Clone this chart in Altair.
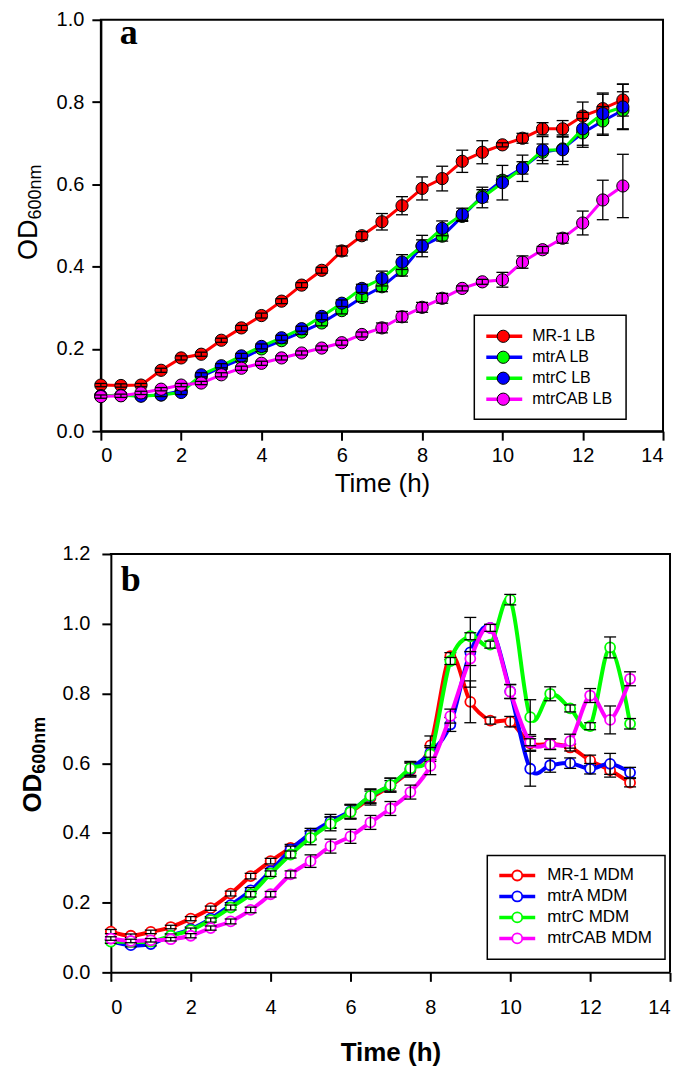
import altair as alt
import pandas as pd

# ---------------- data ----------------
TIME = [0, 0.5, 1, 1.5, 2, 2.5, 3, 3.5, 4, 4.5, 5, 5.5, 6, 6.5, 7, 7.5, 8, 8.5,
        9, 9.5, 10, 10.5, 11, 11.5, 12, 12.5, 13]

# Panel a (LB)
A_NAMES = ["MR-1 LB", "mtrA LB", "mtrC LB", "mtrCAB LB"]
A_LINE = ["#FF0000", "#0000FF", "#00FF00", "#FF00FF"]
A_FILL = ["#FF0000", "#00FF00", "#0000FF", "#FF00FF"]
A_MR1 = [0.112, 0.111, 0.112, 0.148, 0.178, 0.187, 0.221, 0.251, 0.281, 0.316, 0.355, 0.391, 0.438, 0.475,
         0.509, 0.548, 0.590, 0.614, 0.656, 0.678, 0.696, 0.712, 0.735, 0.735, 0.766, 0.784, 0.805]
A_MR1_ERR = [0.004, 0.004, 0.004, 0.005, 0.005, 0.005, 0.005, 0.006, 0.006, 0.006, 0.006, 0.007, 0.012, 0.010,
             0.020, 0.022, 0.028, 0.030, 0.027, 0.028, 0.005, 0.012, 0.015, 0.020, 0.034, 0.035, 0.039]
A_MTRA = [0.086, 0.087, 0.086, 0.088, 0.098, 0.133, 0.155, 0.175, 0.200, 0.220, 0.241, 0.263, 0.293, 0.325,
          0.351, 0.391, 0.450, 0.474, 0.522, 0.572, 0.610, 0.640, 0.678, 0.686, 0.725, 0.754, 0.780]
A_MTRA_ERR = [0.004, 0.004, 0.004, 0.004, 0.005, 0.005, 0.005, 0.005, 0.006, 0.006, 0.006, 0.007, 0.008, 0.010,
              0.012, 0.014, 0.015, 0.012, 0.012, 0.015, 0.010, 0.015, 0.020, 0.030, 0.035, 0.035, 0.045]
A_MTRC = [0.086, 0.087, 0.085, 0.088, 0.094, 0.137, 0.159, 0.183, 0.206, 0.227, 0.249, 0.279, 0.311, 0.347,
          0.371, 0.411, 0.450, 0.493, 0.527, 0.568, 0.604, 0.639, 0.683, 0.684, 0.735, 0.772, 0.788]
A_MTRC_ERR = [0.004, 0.004, 0.004, 0.004, 0.005, 0.005, 0.005, 0.006, 0.006, 0.006, 0.006, 0.008, 0.008, 0.010,
              0.018, 0.018, 0.026, 0.018, 0.015, 0.025, 0.042, 0.032, 0.033, 0.036, 0.040, 0.050, 0.055]
A_CAB = [0.084, 0.086, 0.093, 0.102, 0.112, 0.117, 0.137, 0.153, 0.165, 0.178, 0.190, 0.202, 0.215, 0.235,
         0.251, 0.278, 0.301, 0.323, 0.347, 0.363, 0.368, 0.411, 0.441, 0.469, 0.506, 0.562, 0.596]
A_CAB_ERR = [0.004, 0.004, 0.004, 0.004, 0.004, 0.004, 0.005, 0.005, 0.005, 0.005, 0.005, 0.005, 0.006, 0.006,
             0.012, 0.013, 0.012, 0.012, 0.006, 0.006, 0.018, 0.015, 0.008, 0.012, 0.029, 0.048, 0.077]

# Panel b (MDM)
B_NAMES = ["MR-1 MDM", "mtrA MDM", "mtrC MDM", "mtrCAB MDM"]
B_COLORS = ["#FF0000", "#0000FF", "#00FF00", "#FF00FF"]
B_MR1 = [0.117, 0.105, 0.116, 0.130, 0.154, 0.184, 0.226, 0.276, 0.319, 0.357, 0.392, 0.430, 0.460, 0.500,
         0.535, 0.580, 0.651, 0.907, 0.776, 0.722, 0.719, 0.657, 0.655, 0.645, 0.608, 0.580, 0.544]
B_MR1_ERR = [0.006, 0.005, 0.005, 0.005, 0.006, 0.006, 0.007, 0.008, 0.008, 0.010, 0.012, 0.015, 0.020, 0.020,
             0.015, 0.020, 0.027, 0.010, 0.060, 0.010, 0.015, 0.020, 0.015, 0.010, 0.015, 0.020, 0.012]
B_MTRA = [0.090, 0.078, 0.081, 0.105, 0.124, 0.154, 0.193, 0.235, 0.290, 0.352, 0.398, 0.433, 0.462, 0.505,
          0.537, 0.583, 0.630, 0.711, 0.918, 0.988, 0.806, 0.584, 0.594, 0.600, 0.584, 0.598, 0.573]
B_MTRA_ERR = [0.005, 0.005, 0.005, 0.005, 0.006, 0.006, 0.007, 0.008, 0.008, 0.010, 0.015, 0.020, 0.020, 0.020,
              0.020, 0.020, 0.020, 0.020, 0.100, 0.010, 0.020, 0.050, 0.020, 0.015, 0.015, 0.030, 0.015]
B_MTRC = [0.088, 0.088, 0.088, 0.105, 0.121, 0.150, 0.186, 0.224, 0.283, 0.338, 0.386, 0.426, 0.460, 0.506,
          0.537, 0.585, 0.625, 0.893, 0.964, 0.940, 1.069, 0.732, 0.799, 0.757, 0.706, 0.932, 0.713]
B_MTRC_ERR = [0.005, 0.005, 0.005, 0.005, 0.006, 0.006, 0.007, 0.008, 0.008, 0.010, 0.020, 0.020, 0.020, 0.020,
              0.020, 0.020, 0.020, 0.010, 0.010, 0.010, 0.015, 0.050, 0.020, 0.010, 0.010, 0.030, 0.015]
B_CAB = [0.097, 0.090, 0.092, 0.095, 0.105, 0.127, 0.146, 0.179, 0.224, 0.281, 0.319, 0.362, 0.390, 0.430,
         0.470, 0.517, 0.592, 0.735, 0.900, 0.988, 0.805, 0.660, 0.654, 0.663, 0.794, 0.724, 0.842]
B_CAB_ERR = [0.005, 0.005, 0.005, 0.005, 0.006, 0.006, 0.007, 0.008, 0.008, 0.010, 0.018, 0.020, 0.020, 0.020,
             0.020, 0.020, 0.025, 0.020, 0.020, 0.010, 0.020, 0.010, 0.015, 0.020, 0.020, 0.040, 0.020]

X_TICKS = [0, 2, 4, 6, 8, 10, 12, 14]
A_Y_TICKS = [0.0, 0.2, 0.4, 0.6, 0.8, 1.0]
B_Y_TICKS = [0.0, 0.2, 0.4, 0.6, 0.8, 1.0, 1.2]

SANS = "Liberation Sans"
DUMMY = pd.DataFrame({"k": [0]})


def frame(vals, errs):
    return pd.DataFrame({"t": TIME, "v": vals,
                         "lo": [v - e for v, e in zip(vals, errs)],
                         "hi": [v + e for v, e in zip(vals, errs)]})


def series(df, X, Y, line_color, marker, interp, line_w, cap_half):
    base = alt.Chart(df)
    line = base.mark_line(color=line_color, strokeWidth=line_w, interpolate=interp).encode(x=X, y=Y)
    pts = base.mark_circle(opacity=1, **marker).encode(x=X, y=Y)
    err = base.mark_rule(color="black", strokeWidth=1.3).encode(
        x=X, y=alt.Y("lo:Q"), y2=alt.Y2("hi:Q"))
    cap_hi = base.mark_rule(color="black", strokeWidth=1.3, xOffset=-cap_half, x2Offset=cap_half).encode(
        x=X, x2=alt.X2("t:Q"), y=alt.Y("hi:Q"))
    cap_lo = base.mark_rule(color="black", strokeWidth=1.3, xOffset=-cap_half, x2Offset=cap_half).encode(
        x=X, x2=alt.X2("t:Q"), y=alt.Y("lo:Q"))
    return [line, pts, err, cap_hi, cap_lo]


def legend(names, line_colors, markers, box, row0, dy, lx1, lx2, mx, tx, fsize):
    layers = [alt.Chart(DUMMY).mark_rect(fill="white", stroke="black", strokeWidth=1.5).encode(
        x=alt.value(box[0]), x2=alt.value(box[1]), y=alt.value(box[2]), y2=alt.value(box[3]))]
    for i, (nm, lc, mk) in enumerate(zip(names, line_colors, markers)):
        yy = row0 + i * dy
        layers.append(alt.Chart(DUMMY).mark_rule(color=lc, strokeWidth=3.5).encode(
            x=alt.value(lx1), x2=alt.value(lx2), y=alt.value(yy)))
        layers.append(alt.Chart(DUMMY).mark_circle(opacity=1, **mk).encode(
            x=alt.value(mx), y=alt.value(yy)))
        layers.append(alt.Chart(DUMMY).mark_text(align="left", baseline="middle", font=SANS,
                                                 fontSize=fsize, color="black").encode(
            x=alt.value(tx), y=alt.value(yy), text=alt.value(nm)))
    return layers


def ytitle(x, y, bold, fs_main, fs_sub, sub_dx):
    w = "bold" if bold else "normal"
    od = alt.Chart(DUMMY).mark_text(angle=270, align="right", baseline="middle", font=SANS,
                                    fontSize=fs_main, fontWeight=w, color="black").encode(
        x=alt.value(x), y=alt.value(y), text=alt.value("OD"))
    sub = alt.Chart(DUMMY).mark_text(angle=270, align="left", baseline="middle", font=SANS,
                                     fontSize=fs_sub, fontWeight=w, color="black").encode(
        x=alt.value(x + sub_dx), y=alt.value(y), text=alt.value("600nm"))
    return [od, sub]


def anchor(x):
    return alt.Chart(DUMMY).mark_rule(opacity=0).encode(x=alt.value(x), y=alt.value(100), y2=alt.value(105))


def letter(ch, x, y):
    return alt.Chart(DUMMY).mark_text(align="left", baseline="alphabetic", font="Liberation Serif",
                                      fontSize=36, fontWeight="bold", color="black").encode(
        x=alt.value(x), y=alt.value(y), text=alt.value(ch))


# ---------------- panel a ----------------
Xa = alt.X("t:Q", scale=alt.Scale(domain=[0, 14], nice=False),
           axis=alt.Axis(values=X_TICKS, title="Time (h)", labelPadding=5, titlePadding=5,
                         titleFontWeight="normal"))
Ya = alt.Y("v:Q", scale=alt.Scale(domain=[0, 1], nice=False),
           axis=alt.Axis(values=A_Y_TICKS, format=".1f", title=None, labelPadding=8))

a_vals = [A_MR1, A_MTRA, A_MTRC, A_CAB]
a_errs = [A_MR1_ERR, A_MTRA_ERR, A_MTRC_ERR, A_CAB_ERR]
a_layers = [anchor(-92)]
for vals, errs, lc, fc in zip(a_vals, a_errs, A_LINE, A_FILL):
    a_layers += series(frame(vals, errs), Xa, Ya, lc,
                       dict(fill=fc, stroke="black", strokeWidth=1, size=150),
                       "linear", 3, 6)
a_markers = [dict(fill=fc, stroke="black", strokeWidth=1, size=150) for fc in A_FILL]
a_layers += legend(A_NAMES, A_LINE, a_markers, (374, 526, 296, 400), 317, 21, 386, 422, 403, 432, 16)
a_layers += ytitle(-72, 200, False, 27, 18, 7)
a_layers.append(letter("a", 19, 24))
panel_a = alt.layer(*a_layers).properties(width=563, height=412)

# ---------------- panel b ----------------
# plot area of panel b starts 10 px to the right of panel a's
B_LEFT = 10
B_W = 570
B_H = 419
Xb = alt.X("t:Q", scale=alt.Scale(domain=[0, 14], nice=False, range=[B_LEFT, B_W]),
           axis=alt.Axis(values=X_TICKS, title="Time (h)", labelPadding=16, titlePadding=22,
                         titleFontWeight="bold"))
Yb = alt.Y("v:Q", scale=alt.Scale(domain=[0, 1.2], nice=False),
           axis=alt.Axis(values=B_Y_TICKS, format=".1f", title=None, labelPadding=12, offset=-B_LEFT))

b_vals = [B_MR1, B_MTRA, B_MTRC, B_CAB]
b_errs = [B_MR1_ERR, B_MTRA_ERR, B_MTRC_ERR, B_CAB_ERR]
b_layers = [anchor(-92)]
for vals, errs, col in zip(b_vals, b_errs, B_COLORS):
    b_layers += series(frame(vals, errs), Xb, Yb, col,
                       dict(fill="white", stroke=col, strokeWidth=1.8, size=100),
                       "cardinal", 4, 6)
# frame: top and right edges
b_layers.append(alt.Chart(DUMMY).mark_rule(color="black", strokeWidth=2).encode(
    x=alt.value(B_LEFT - 1), x2=alt.value(B_W + 1), y=alt.value(0)))
b_layers.append(alt.Chart(DUMMY).mark_rule(color="black", strokeWidth=2).encode(
    x=alt.value(B_W), y=alt.value(0), y2=alt.value(B_H)))
b_markers = [dict(fill="white", stroke=c, strokeWidth=1.8, size=100) for c in B_COLORS]
b_layers += legend(B_NAMES, B_COLORS, b_markers, (387, 565, 302, 406), 322, 21, 399, 435, 417, 447, 17)
b_layers += ytitle(-68, 220, True, 26, 18, 7)
b_layers.append(letter("b", 20, 37))
panel_b = alt.layer(*b_layers).properties(width=B_W, height=B_H,
                                          view=alt.ViewBackground(stroke=None))

chart = alt.concat(panel_a, panel_b, columns=1, spacing=47).properties(
    padding={"left": 0, "top": 0, "right": 5, "bottom": 0}
).configure_view(
    stroke="black", strokeWidth=2
).configure_axis(
    grid=False, domainColor="black", domainWidth=2, tickColor="black", tickWidth=2, tickSize=9,
    labelFont=SANS, labelFontSize=20, labelColor="black",
    titleFont=SANS, titleFontSize=26, titleColor="black"
)

chart.save("out.html", embed_options={"renderer": "svg", "actions": False})
